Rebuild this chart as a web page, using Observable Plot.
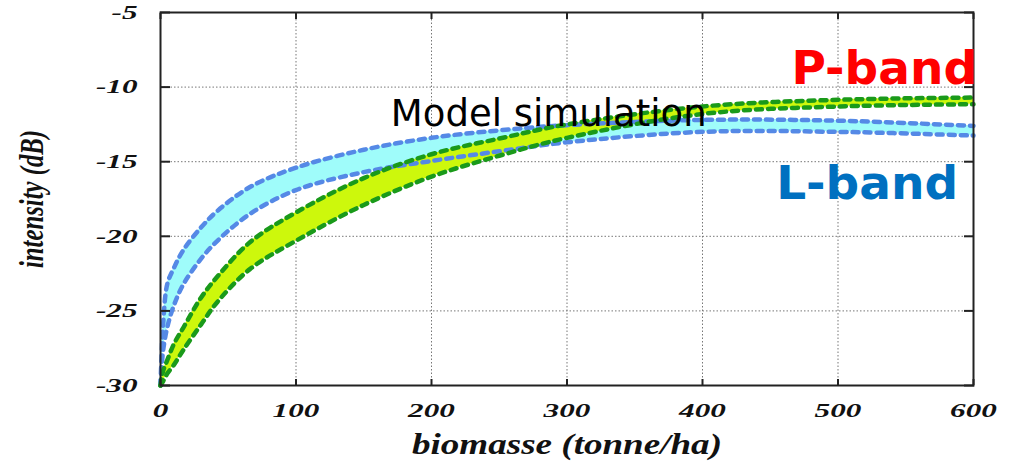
<!DOCTYPE html>
<html><head><meta charset="utf-8">
<script src="https://cdn.jsdelivr.net/npm/d3@7"></script>
<script src="https://cdn.jsdelivr.net/npm/@observablehq/plot@0.6"></script>
<style>html,body{margin:0;padding:0;background:#fff}#chart svg{display:block}</style>
</head><body><div id="chart"></div>
<script>
// biomass (tonne/ha) sample points
const biomass   = [0, 1, 2, 5, 10, 17, 30, 42, 66, 100, 150, 200, 250, 300, 400, 500, 600];
// L-band envelope (dB)
const lBandHigh = [-30, -27.5, -25.8, -23.2, -22.1, -20.9, -19.4, -18.3, -16.7, -15.4, -14.2, -13.4, -12.9, -12.55, -12.2, -12.25, -12.6];
const lBandLow  = [-30, -28.6, -27.6, -26.1, -24.6, -23.2, -21.5, -20.3, -18.5, -16.9, -15.7, -14.95, -14.3, -13.7, -13.0, -13.0, -13.25];
// P-band envelope (dB)
const pBandHigh = [-30, -29.4, -29.0, -28.3, -27.2, -26.1, -24.1, -22.7, -20.4, -18.4, -16.1, -14.5, -13.45, -12.5, -11.3, -10.85, -10.7];
const pBandLow  = [-30, -29.85, -29.7, -29.2, -28.6, -27.6, -25.9, -24.4, -22.2, -20.3, -17.9, -16.0, -14.6, -13.4, -11.8, -11.3, -11.15];
// tick labels
const xTicks = [0, 100, 200, 300, 400, 500, 600];
const yTicks = [-30, -25, -20, -15, -10, -5];
// texts
const xLabel = "biomasse (tonne/ha)";
const yLabel = "intensity (dB)";
const modelLabel = "Model simulation";
const pLabel = "P-band";
const lLabel = "L-band";

const rows = biomass.map((b, i) => ({b, lHi: lBandHigh[i], lLo: lBandLow[i], pHi: pBandHigh[i], pLo: pBandLow[i]}));

const serif = "'Liberation Serif', 'Times New Roman', serif";
const sans = "'DejaVu Sans', Verdana, sans-serif";
const curve = "catmull-rom";
const lineOpts = {x: "b", strokeWidth: 4.5, strokeDasharray: "6,6", strokeLinecap: "round", curve};
const tickTextOpts = {fontSize: 19.5, fontFamily: serif, fontWeight: "bold", fontStyle: "italic", fill: "#111", label: null, tickFormat: d => String(d)};

const plot = Plot.plot({
  width: 1009, height: 462,
  marginLeft: 160, marginRight: 36, marginTop: 12, marginBottom: 77,
  x: {domain: [0, 600]},
  y: {domain: [-30, -5]},
  style: {background: "#fff", overflow: "visible"},
  marks: [
    Plot.gridX(xTicks.slice(1, -1), {stroke: "#777", strokeOpacity: 1, strokeDasharray: "1.5,2"}),
    Plot.gridY(yTicks.slice(1, -1), {stroke: "#777", strokeOpacity: 1, strokeDasharray: "1.5,2"}),
    Plot.areaY(rows, {x: "b", y1: "lLo", y2: "lHi", fill: "#9ffcfa", curve}),
    Plot.areaY(rows, {x: "b", y1: "pLo", y2: "pHi", fill: "#cdf80c", curve}),
    Plot.line(rows, {...lineOpts, y: "lHi", stroke: "#5589e6"}),
    Plot.line(rows, {...lineOpts, y: "lLo", stroke: "#5589e6"}),
    Plot.line(rows, {...lineOpts, y: "pHi", stroke: "#1a9a1a"}),
    Plot.line(rows, {...lineOpts, y: "pLo", stroke: "#1a9a1a"}),
    Plot.frame({stroke: "#222", strokeWidth: 2}),
    Plot.axisY(yTicks, {anchor: "left", tickSize: 0, tickPadding: 23, ...tickTextOpts}),
    Plot.axisY(yTicks, {anchor: "left", tickSize: -10, tickFormat: () => "", label: null, stroke: "#222", strokeWidth: 2}),
    Plot.axisY(yTicks, {anchor: "right", tickSize: -10, tickFormat: () => "", label: null, stroke: "#222", strokeWidth: 2}),
    Plot.axisX(xTicks, {anchor: "bottom", tickSize: 0, tickPadding: 18, ...tickTextOpts}),
    Plot.axisX(xTicks, {anchor: "bottom", tickSize: -6, tickFormat: () => "", label: null, stroke: "#222", strokeWidth: 2}),
    Plot.axisX(xTicks, {anchor: "top", tickSize: -6, tickFormat: () => "", label: null, stroke: "#222", strokeWidth: 2}),
    Plot.text([xLabel], {text: d => d, frameAnchor: "bottom", dy: 68, textAnchor: "middle", lineAnchor: "bottom", fontSize: 29, fontFamily: serif, fontWeight: "bold", fontStyle: "italic", fill: "#111"}),
    Plot.text([yLabel], {text: d => d, frameAnchor: "left", dx: -128, rotate: -90, textAnchor: "middle", lineAnchor: "middle", fontSize: 34, fontFamily: serif, fontWeight: "bold", fontStyle: "italic", fill: "#111"}),
    Plot.text([modelLabel], {text: d => d, x: 170, y: -12.6, textAnchor: "start", lineAnchor: "bottom", fontSize: 37, fontFamily: sans, fill: "#000"}),
    Plot.text([pLabel], {text: d => d, x: 602.6, y: -9.76, textAnchor: "end", lineAnchor: "bottom", fontSize: 47, fontFamily: sans, fontWeight: "bold", fill: "#ff0000"}),
    Plot.text([lLabel], {text: d => d, x: 588.6, y: -17.47, textAnchor: "end", lineAnchor: "bottom", fontSize: 47, fontFamily: sans, fontWeight: "bold", fill: "#0070c0"})
  ]
});
document.getElementById("chart").append(plot);

// the source figure's axis lettering is horizontally stretched
function stretch(nodes, f) {
  nodes.forEach(t => {
    const w = t.getComputedTextLength();
    if (w > 0) { t.setAttribute("textLength", f(w)); t.setAttribute("lengthAdjust", "spacingAndGlyphs"); }
  });
}
const allText = Array.from(plot.querySelectorAll("text"));
stretch(Array.from(plot.querySelectorAll('g[aria-label="y-axis tick label"] text, g[aria-label="x-axis tick label"] text')), w => w * 1.6);
stretch(allText.filter(t => t.textContent === xLabel), () => 310);
stretch(allText.filter(t => t.textContent === yLabel), () => 138);
</script>
</body></html>
